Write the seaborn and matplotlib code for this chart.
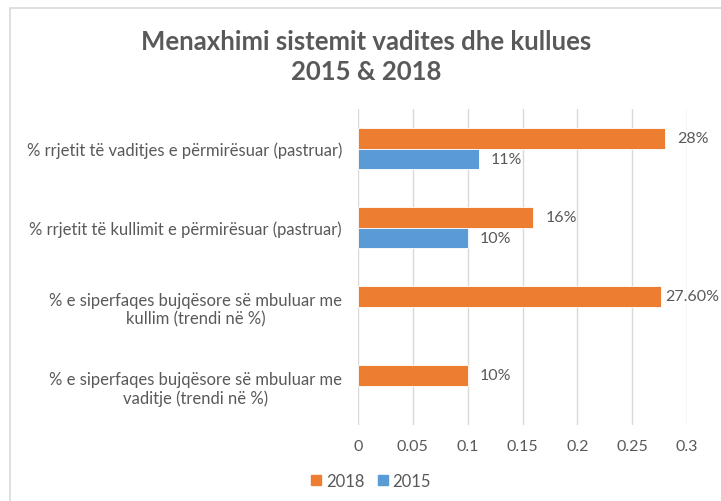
import numpy as np
import pandas as pd
import matplotlib
matplotlib.use("Agg")
import matplotlib.pyplot as plt
import seaborn as sns
from matplotlib.patches import Rectangle

categories = [
    "% rrjetit të vaditjes e përmirësuar (pastruar)",
    "% rrjetit të kullimit e përmirësuar (pastruar)",
    "% e siperfaqes bujqësore së mbuluar me\nkullim (trendi në %)",
    "% e siperfaqes bujqësore së mbuluar me\nvaditje (trendi në %)",
]
values_2018 = [0.28, 0.16, 0.276, 0.10]
values_2015 = [0.11, 0.10, np.nan, np.nan]
labels_2018 = ["28%", "16%", "27.60%", "10%"]
labels_2015 = ["11%", "10%", "", ""]
x_ticks = [0, 0.05, 0.1, 0.15, 0.2, 0.25, 0.3]
x_tick_labels = ["0", "0.05", "0.1", "0.15", "0.2", "0.25", "0.3"]

sns.set_style("white")
plt.rcParams["font.family"] = ["Lato", "DejaVu Sans"]

gray_text = "#595959"
orange = "#ED7D31"
blue = "#5B9BD5"

df = pd.DataFrame({
    "category": categories * 2,
    "year": ["2018"] * 4 + ["2015"] * 4,
    "value": values_2018 + values_2015,
})

fig = plt.figure(figsize=(7.21, 5.02), dpi=100)
ax = fig.add_axes([358 / 721, 1 - 426 / 502, 329 / 721, 316 / 502])

sns.barplot(
    data=df, y="category", x="value", hue="year",
    hue_order=["2018", "2015"], order=categories,
    palette={"2018": orange, "2015": blue}, saturation=1,
    orient="h", width=0.53, edgecolor="white", linewidth=0.6,
    legend=False, ax=ax,
)

ax.set_xlim(0, 0.3)
ax.set_xticks(x_ticks)
ax.set_xticklabels(x_tick_labels)
ax.grid(axis="x", color="#D9D9D9", linewidth=1)
ax.set_axisbelow(True)
for s in ax.spines.values():
    s.set_visible(False)
ax.set_xlabel("")
ax.set_ylabel("")
ax.tick_params(axis="x", colors=gray_text, labelsize=11.5, pad=10, length=0)
ax.tick_params(axis="y", colors=gray_text, labelsize=12, pad=11.5, length=0)
for t in ax.get_yticklabels():
    t.set_multialignment("center")

# value labels
texts = []
for cont, labs in zip(ax.containers, [labels_2018, labels_2015]):
    for bar, lab in zip(cont, labs):
        if not lab:
            continue
        w = bar.get_width()
        y = bar.get_y() + bar.get_height() / 2
        t = ax.annotate(lab, xy=(w, y), xytext=(9, 0), textcoords="offset points",
                        ha="left", va="center", fontsize=11.5, color=gray_text,
                        annotation_clip=False)
        texts.append(t)

# keep labels inside the chart area like excel does
fig.canvas.draw()
renderer = fig.canvas.get_renderer()
for t in texts:
    bb = t.get_window_extent(renderer)
    limit = 719
    if bb.x1 > limit:
        dx = (bb.x1 - limit) * 72 / fig.dpi
        ox, oy = t.xyann
        t.xyann = (ox - dx, oy)

handles = [Rectangle((0, 0), 1, 1, color=orange), Rectangle((0, 0), 1, 1, color=blue)]
fig.legend(handles, ["2018", "2015"], loc="center", bbox_to_anchor=(371 / 721, 1 - 482 / 502),
           ncol=2, frameon=False, fontsize=12, labelcolor=gray_text,
           handlelength=0.6, handleheight=0.6, handletextpad=0.3, columnspacing=0.8)

fig.text(366 / 721, 1 - 57 / 502, "Menaxhimi sistemit vadites dhe kullues\n2015 & 2018",
         ha="center", va="center", fontsize=18.5, fontweight="bold", color=gray_text,
         linespacing=1.25)

# chart area border
fig.patches.append(Rectangle((10 / 721, -0.1), 1.2, 1.1 - 9 / 502, transform=fig.transFigure,
                             fill=False, edgecolor="#D9D9D9", linewidth=1.2))

fig.savefig("out.png", dpi=100, facecolor="white")
